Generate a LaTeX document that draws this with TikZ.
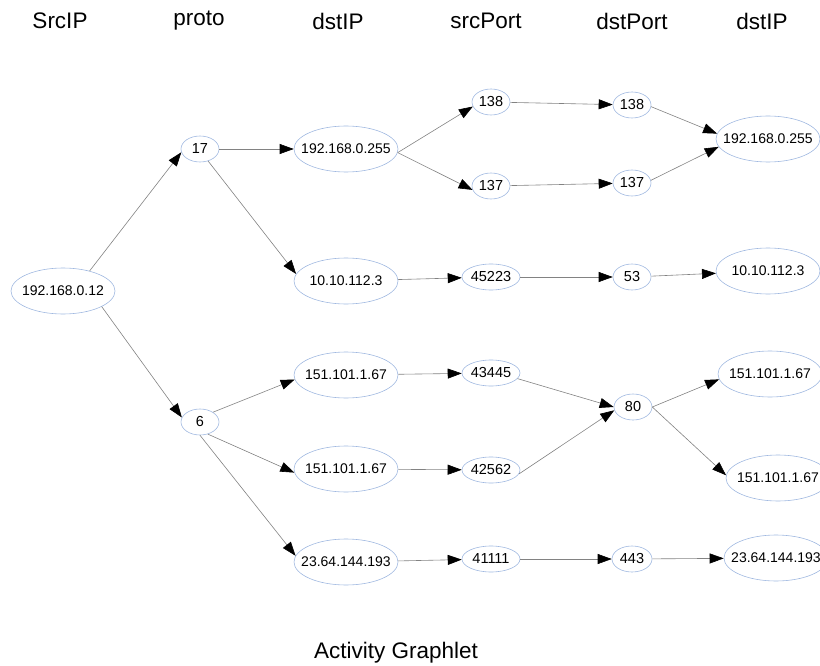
\documentclass[tikz,border=0pt]{standalone}
\usepackage{fontspec}
\setmainfont{Liberation Sans}
\usetikzlibrary{arrows.meta, shapes.geometric}
\definecolor{nodeblue}{RGB}{160,184,224}
\definecolor{edgegray}{RGB}{130,130,130}

% zero-width label so the ellipse keeps its fixed size
\newcommand{\lbl}[1]{\makebox[0pt]{#1}}

\tikzset{
  ipnode/.style={ellipse, draw=nodeblue, line width=0.6pt, inner sep=0pt,
    minimum width=104pt, minimum height=46pt, font=\fontsize{14}{16}\selectfont},
  portnode/.style={ellipse, draw=nodeblue, line width=0.6pt, inner sep=0pt,
    minimum width=38pt, minimum height=26pt, font=\fontsize{14.5}{16}\selectfont},
  widenode/.style={portnode, minimum width=58pt},
  header/.style={font=\fontsize{22.5}{26}\selectfont},
  flow/.style={draw=edgegray, line width=0.6pt,
    -{Triangle[color=black, length=14pt, width=10pt]}}
}

\begin{document}
\begin{tikzpicture}[x=1pt, y=-1pt]
  \useasboundingbox (0,0) rectangle (820,666);
  % column headers
  \node[header] (h1) at (60,21) {SrcIP};
  \node[header] (h2) at (199,21) {proto};
  \node[header] (h3) at (338,21) {dstIP};
  \node[header] (h4) at (486,21) {srcPort};
  \node[header] (h5) at (632,21) {dstPort};
  \node[header] (h6) at (762,21) {dstIP};
  % source and protocols
  \node[ipnode] (src) at (63,291) {\lbl{192.168.0.12}};
  \node[portnode] (p17) at (200,149) {\lbl{17}};
  \node[portnode] (p6) at (200,422) {\lbl{6}};
  % destination ips
  \node[ipnode] (d1) at (346,149) {\lbl{192.168.0.255}};
  \node[ipnode] (d2) at (346,281) {\lbl{10.10.112.3}};
  \node[ipnode] (d3) at (346,375) {\lbl{151.101.1.67}};
  \node[ipnode] (d4) at (346,469) {\lbl{151.101.1.67}};
  \node[ipnode] (d5) at (346,562) {\lbl{23.64.144.193}};
  % source ports
  \node[portnode] (s1) at (491,102) {\lbl{138}};
  \node[portnode] (s2) at (491,186) {\lbl{137}};
  \node[widenode] (s3) at (491,277) {\lbl{45223}};
  \node[widenode] (s4) at (491,373) {\lbl{43445}};
  \node[widenode] (s5) at (491,470) {\lbl{42562}};
  \node[widenode] (s6) at (491,559) {\lbl{41111}};
  % destination ports
  \node[portnode] (t1) at (632,105) {\lbl{138}};
  \node[portnode] (t2) at (632,183) {\lbl{137}};
  \node[portnode] (t3) at (632,277) {\lbl{53}};
  \node[portnode] (t4) at (633,407) {\lbl{80}};
  \node[portnode, minimum width=40pt] (t5) at (632,559) {\lbl{443}};
  % destination ips again
  \node[ipnode] (e1) at (768,139) {\lbl{192.168.0.255}};
  \node[ipnode] (e2) at (768,271) {\lbl{10.10.112.3}};
  \node[ipnode] (e3) at (770,374) {\lbl{151.101.1.67}};
  \node[ipnode] (e4) at (778,478) {\lbl{151.101.1.67}};
  \node[ipnode] (e5) at (776,558) {\lbl{23.64.144.193}};
  % edges
  \draw[flow] (src.37) -- (p17.190);
  \draw[flow] (src.-22) -- (p6.166);
  \draw[flow] (p17) -- (d1);
  \draw[flow] (p17.-56) -- (d2.172);
  \draw[flow] (p6.37) -- (d3.185);
  \draw[flow] (p6.-57) -- (d4.184);
  \draw[flow] (p6.-90) -- (d5.173);
  \draw[flow] (d1.-4) -- (s1.194);
  \draw[flow] (d1.-4) -- (s2.192);
  \draw[flow] (d2) -- (s3);
  \draw[flow] (d3) -- (s4);
  \draw[flow] (d4) -- (s5);
  \draw[flow] (d5) -- (s6);
  \draw[flow] (s1) -- (t1);
  \draw[flow] (s2) -- (t2);
  \draw[flow] (s3) -- (t3);
  \draw[flow] (s4.-12) -- (t4.180);
  \draw[flow] (s5.-8) -- (t4.190);
  \draw[flow] (s6) -- (t5);
  \draw[flow] (t1.-5) -- (e1.174);
  \draw[flow] (t2.8) -- (e1.189);
  \draw[flow] (t3) -- (e2);
  \draw[flow] (t4.east) -- (e3.186);
  \draw[flow] (t4.east) -- (e4.177);
  \draw[flow] (t5) -- (e5);
  % caption
  \node[header] (cap) at (396,653) {Activity Graphlet};
\end{tikzpicture}
\end{document}
